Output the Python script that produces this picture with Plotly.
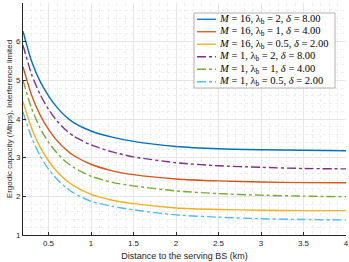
import plotly.graph_objects as go

distance_km = [0.2, 0.3, 0.4, 0.5, 0.6, 0.7, 0.8, 1.0, 1.25, 1.5, 2.0, 2.5, 3.0, 3.5, 4.0]

cap_M16_l2 = [6.27, 5.50, 4.98, 4.60, 4.30, 4.07, 3.90, 3.69, 3.53, 3.42, 3.29, 3.23, 3.205, 3.19, 3.18]
cap_M16_l1 = [5.35, 4.62, 4.11, 3.73, 3.44, 3.22, 3.05, 2.83, 2.66, 2.56, 2.45, 2.40, 2.37, 2.355, 2.35]
cap_M16_l05 = [4.45, 3.77, 3.28, 2.92, 2.64, 2.43, 2.27, 2.05, 1.90, 1.81, 1.70, 1.66, 1.64, 1.63, 1.63]
cap_M1_l2 = [5.91, 5.16, 4.64, 4.25, 3.95, 3.72, 3.55, 3.33, 3.15, 3.02, 2.87, 2.79, 2.75, 2.72, 2.71]
cap_M1_l1 = [5.00, 4.28, 3.77, 3.40, 3.12, 2.90, 2.74, 2.52, 2.36, 2.27, 2.14, 2.07, 2.03, 2.005, 1.99]
cap_M1_l05 = [4.18, 3.53, 3.05, 2.70, 2.44, 2.24, 2.08, 1.87, 1.74, 1.65, 1.52, 1.46, 1.42, 1.40, 1.39]

names = [
    "<i>M</i> = 16, λ<sub>b</sub> = 2, <i>δ</i> = 8.00",
    "<i>M</i> = 16, λ<sub>b</sub> = 1, <i>δ</i> = 4.00",
    "<i>M</i> = 16, λ<sub>b</sub> = 0.5, <i>δ</i> = 2.00",
    "<i>M</i> = 1, λ<sub>b</sub> = 2, <i>δ</i> = 8.00",
    "<i>M</i> = 1, λ<sub>b</sub> = 1, <i>δ</i> = 4.00",
    "<i>M</i> = 1, λ<sub>b</sub> = 0.5, <i>δ</i> = 2.00",
]
series = [cap_M16_l2, cap_M16_l1, cap_M16_l05, cap_M1_l2, cap_M1_l1, cap_M1_l05]
colors = ["#0072BD", "#D95319", "#EDB120", "#7E2F8E", "#77AC30", "#4DBEEE"]
dashes = ["solid", "solid", "solid", "dashdot", "dashdot", "dashdot"]

W, H = 349, 262
ML, MR, MT, MB = 23, 3, 3, 27
PW, PH = W - ML - MR, H - MT - MB


def px(xp):
    return (xp - ML) / PW


def py(yp):
    return 1 - (yp - MT) / PH


fig = go.Figure()
for name, ys, c, d in zip(names, series, colors, dashes):
    fig.add_trace(go.Scatter(
        x=distance_km, y=ys, mode="lines", name=name, showlegend=False,
        line=dict(color=c, width=1.4, dash=d, shape="spline", smoothing=0.6),
    ))

axis_common = dict(
    showline=True, linecolor="#262626", linewidth=0.8,
    ticks="inside", ticklen=3, tickcolor="#262626",
    gridcolor="#e6e6e6", gridwidth=0.8,
    tickfont=dict(family="Liberation Sans, Arial", size=8, color="#262626"),
    zeroline=False, automargin=False,
    minor=dict(showgrid=True, gridcolor="#eeeeee", griddash="dot", gridwidth=0.7),
)

fig.update_xaxes(
    range=[0.2, 4], tickmode="array", tickvals=[0.5, 1, 1.5, 2, 2.5, 3, 3.5, 4],
    ticktext=["0.5", "1", "1.5", "2", "2.5", "3", "3.5", "4"],
    title=dict(text="Distance to the serving BS (km)", standoff=6,
               font=dict(family="Liberation Sans, Arial", size=9, color="#262626")),
    **axis_common,
)
fig.update_xaxes(minor=dict(dtick=0.1, tick0=0))
fig.update_yaxes(
    range=[1, 7], tickmode="array", tickvals=[1, 2, 3, 4, 5, 6, 7],
    title=dict(text="Ergodic capacity (Mbps), Interference limited", standoff=2,
               font=dict(family="Liberation Sans, Arial", size=8, color="#262626")),
    **axis_common,
)
fig.update_yaxes(minor=dict(dtick=0.2, tick0=0))

# manual legend (box, line samples, labels)
LX0, LX1, LY0, LY1 = 194, 335, 13, 88
row_h = (LY1 - LY0) / len(names)
shapes = [dict(type="rect", xref="paper", yref="paper",
               x0=px(LX0), x1=px(LX1), y0=py(LY1), y1=py(LY0),
               line=dict(color="#a0a0a0", width=0.8), fillcolor="white", layer="above")]
annotations = []
for i, (name, c, d) in enumerate(zip(names, colors, dashes)):
    yc = LY0 + row_h * (i + 0.5)
    shapes.append(dict(type="line", xref="paper", yref="paper",
                       x0=px(197), x1=px(216), y0=py(yc), y1=py(yc),
                       line=dict(color=c, width=1.3, dash=d), layer="above"))
    annotations.append(dict(xref="paper", yref="paper", x=px(217), y=py(yc),
                            xanchor="left", yanchor="middle", showarrow=False,
                            text=name, font=dict(family="Liberation Serif, DejaVu Serif",
                                                 size=10.5, color="#000")))

fig.update_layout(
    width=W, height=H,
    margin=dict(l=ML, r=MR, t=MT, b=MB),
    plot_bgcolor="white", paper_bgcolor="white",
    shapes=shapes, annotations=annotations,
    showlegend=False,
)

fig.write_html("out.html", config={"displayModeBar": False},
               post_script="document.body.style.margin='0';")
